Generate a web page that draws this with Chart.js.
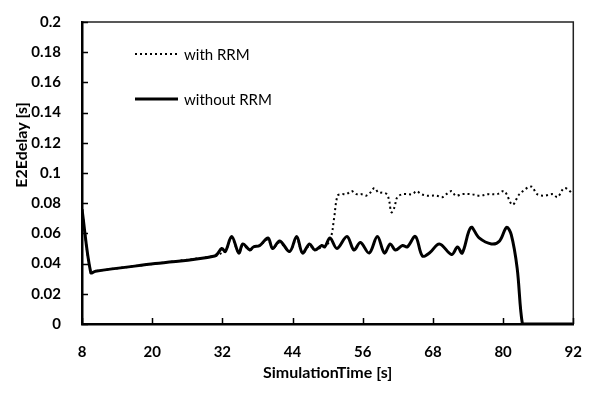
<!DOCTYPE html>
<html>
<head>
<meta charset="utf-8">
<script src="https://cdn.jsdelivr.net/npm/chart.js@4.4.1/dist/chart.umd.min.js"></script>
<style>
  html, body { margin: 0; padding: 0; background: #fff; }
  #wrap { position: relative; width: 593px; height: 394px; }
</style>
</head>
<body>
<div id="wrap"><canvas id="c" width="593" height="394"></canvas></div>
<script>
// End-to-end delay over simulation time, with and without RRM
const seriesLabels = ['with RRM', 'without RRM'];

const timeWithout = [8, 9.5, 10.3, 20.5, 30.7, 31.9, 32.5, 33.6, 34.8, 35.5, 36.7, 37.3, 38.4, 39.8, 40.6, 41.8, 43.5,
  44.7, 45.7, 46.9, 47.8, 49.0, 49.5, 50.4, 51.6, 53.3, 54.5, 55.6, 57.1, 58.5, 59.7, 60.7, 61.6, 62.8, 63.6,
  65.0, 66.2, 67.4, 69.1, 71.2, 72.2, 73.0, 74.5, 75.9, 78.0, 79.4, 80.6, 81.4, 82.4, 83.3, 84, 92];
const delayWithout = [0.076, 0.034, 0.035, 0.040, 0.045, 0.050, 0.048, 0.058, 0.047, 0.053, 0.049, 0.051, 0.052, 0.057, 0.050, 0.055, 0.048,
  0.058, 0.047, 0.053, 0.049, 0.052, 0.051, 0.057, 0.050, 0.058, 0.049, 0.054, 0.047, 0.058, 0.047, 0.053, 0.049, 0.052, 0.051,
  0.058, 0.045, 0.047, 0.053, 0.046, 0.051, 0.047, 0.064, 0.057, 0.053, 0.055, 0.064, 0.059, 0.037, 0, 0, 0];

const timeWith = [8, 9.5, 10.3, 20.5, 30.7, 31.9, 32.5, 33.6, 34.8, 35.5, 36.7, 37.3, 38.4, 39.8, 40.6, 41.8, 43.5,
  44.7, 45.7, 46.9, 47.8, 49.0, 49.8, 50.6, 51.1, 51.7, 52.4, 53.2, 54.1, 54.9, 55.8, 56.6, 57.3, 58.0, 58.7,
  59.4, 60.1, 60.5, 60.9, 61.4, 61.9, 62.8, 63.6, 64.5, 65.2, 66.0, 66.9, 67.7, 68.6, 69.6, 70.3, 71.2, 71.9,
  73.0, 74.5, 76.0, 77.5, 79.0, 80.2, 81.6, 82.8, 84.8, 85.8, 87.0, 88.5, 89.3, 90.5, 92];
const delayWith = [0.076, 0.034, 0.035, 0.040, 0.045, 0.047, 0.048, 0.057, 0.047, 0.052, 0.049, 0.051, 0.052, 0.056, 0.050, 0.054, 0.048,
  0.057, 0.047, 0.052, 0.049, 0.051, 0.052, 0.058, 0.070, 0.085, 0.086, 0.086, 0.088, 0.086, 0.086, 0.085, 0.087, 0.090, 0.087,
  0.087, 0.086, 0.082, 0.074, 0.077, 0.084, 0.086, 0.086, 0.086, 0.088, 0.086, 0.085, 0.085, 0.085, 0.084, 0.086, 0.088, 0.085,
  0.086, 0.086, 0.085, 0.086, 0.086, 0.088, 0.079, 0.086, 0.091, 0.086, 0.085, 0.086, 0.084, 0.090, 0.086];

const xTicks = [8, 20, 32, 44, 56, 68, 80, 92];
const yTicks = [0, 0.02, 0.04, 0.06, 0.08, 0.1, 0.12, 0.14, 0.16, 0.18, 0.2];
const xTitle = 'SimulationTime [s]';
const yTitle = 'E2Edelay [s]';

const FONT = 'Lato, "Open Sans", sans-serif';
const toPoints = (xs, ys) => xs.map((x, i) => ({ x, y: ys[i] }));

// Frame, inward tick marks, y title and in-plot legend
const decorations = {
  id: 'decorations',
  afterDraw(chart) {
    const { ctx, chartArea: a, scales: { x, y } } = chart;
    ctx.save();
    ctx.strokeStyle = '#222';
    ctx.lineWidth = 1.5;
    ctx.beginPath();
    ctx.moveTo(a.left, a.top);
    ctx.lineTo(a.right, a.top);
    ctx.lineTo(a.right, a.bottom);
    ctx.stroke();

    ctx.strokeStyle = '#000';
    ctx.lineWidth = 1.5;
    ctx.beginPath();
    xTicks.forEach(v => {
      const px = Math.round(x.getPixelForValue(v)) + 0.5;
      ctx.moveTo(px, a.bottom);
      ctx.lineTo(px, a.bottom - 6);
    });
    yTicks.forEach(v => {
      const py = Math.round(y.getPixelForValue(v)) + 0.5;
      ctx.moveTo(a.left, py);
      ctx.lineTo(a.left + 6, py);
    });
    ctx.stroke();

    // y axis title
    ctx.save();
    ctx.translate(22, 145);
    ctx.rotate(-Math.PI / 2);
    ctx.fillStyle = '#000';
    ctx.font = 'bold 16px ' + FONT;
    ctx.textAlign = 'center';
    ctx.textBaseline = 'middle';
    ctx.fillText(yTitle, 0, 0);
    ctx.restore();

    // legend
    const items = [
      { label: chart.data.datasets[0].label, y: 54, dash: [2, 3], width: 2 },
      { label: chart.data.datasets[1].label, y: 99, dash: [], width: 3 }
    ];
    items.forEach(it => {
      ctx.beginPath();
      ctx.setLineDash(it.dash);
      ctx.lineWidth = it.width;
      ctx.strokeStyle = '#000';
      ctx.moveTo(135, it.y);
      ctx.lineTo(178, it.y);
      ctx.stroke();
      ctx.setLineDash([]);
      ctx.fillStyle = '#000';
      ctx.font = '15px ' + FONT;
      ctx.textAlign = 'left';
      ctx.textBaseline = 'middle';
      ctx.fillText(it.label, 184, it.y + 1);
    });
    ctx.restore();
  }
};

new Chart(document.getElementById('c'), {
  type: 'line',
  data: {
    datasets: [
      {
        label: seriesLabels[0],
        data: toPoints(timeWith, delayWith),
        borderColor: '#000',
        borderWidth: 2,
        borderDash: [2, 3],
        pointRadius: 0,
        tension: 0.35,
        fill: false,
        order: 1
      },
      {
        label: seriesLabels[1],
        data: toPoints(timeWithout, delayWithout),
        borderColor: '#000',
        borderWidth: 3,
        borderJoinStyle: 'round',
        pointRadius: 0,
        tension: 0.35,
        fill: false,
        order: 0
      }
    ]
  },
  options: {
    responsive: false,
    animation: false,
    devicePixelRatio: 1,
    layout: { padding: { top: 16, right: 19, left: 0, bottom: 0 } },
    plugins: { legend: { display: false }, tooltip: { enabled: false } },
    scales: {
      x: {
        type: 'linear',
        min: 8, max: 92,
        afterBuildTicks: s => { s.ticks = xTicks.map(v => ({ value: v })); },
        afterFit: s => { s.height = 70; },
        grid: { display: false },
        border: { display: true, color: '#000', width: 2.5 },
        ticks: { color: '#000', padding: 11, font: { family: FONT, size: 15, weight: 'bold' } },
        title: { display: true, text: xTitle, color: '#000', padding: { top: 0, bottom: 12 }, font: { family: FONT, size: 16, weight: 'bold' } }
      },
      y: {
        type: 'linear',
        min: 0, max: 0.2,
        afterBuildTicks: s => { s.ticks = yTicks.map(v => ({ value: v })); },
        afterFit: s => { s.width = 82; },
        grid: { display: false },
        border: { display: true, color: '#000', width: 2.5 },
        ticks: { color: '#000', padding: 13, font: { family: FONT, size: 15, weight: 'bold' }, callback: v => String(+v.toFixed(2)) }
      }
    }
  },
  plugins: [decorations]
});
</script>
</body>
</html>
